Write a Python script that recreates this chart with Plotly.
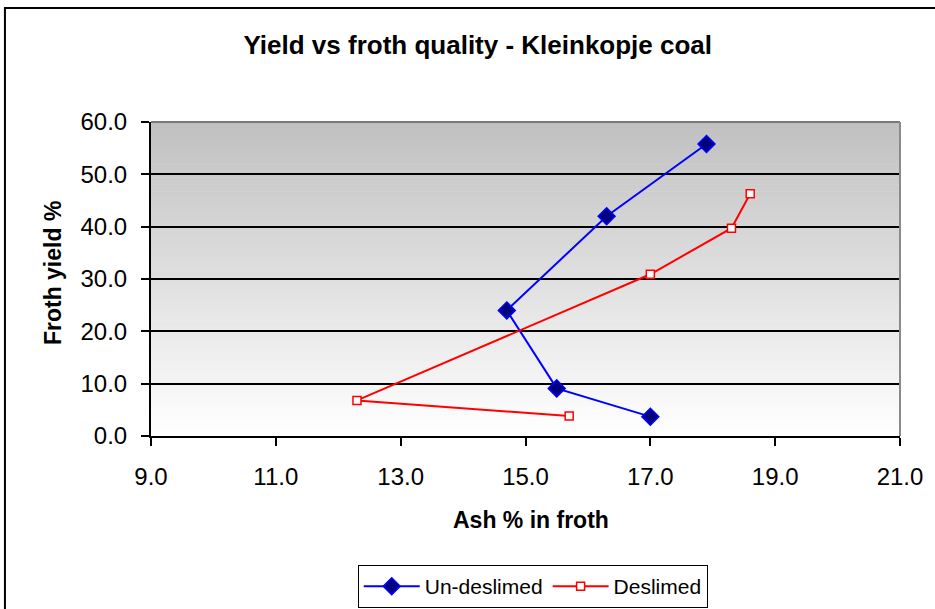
import plotly.graph_objects as go

# Froth ash (%) and froth yield (%) for each series
ash_undeslimed = [17.0, 15.5, 14.7, 16.3, 17.9]
yield_undeslimed = [3.7, 9.1, 24.0, 42.0, 55.8]

ash_deslimed = [15.7, 12.3, 17.0, 18.3, 18.6]
yield_deslimed = [3.8, 6.8, 30.9, 39.7, 46.3]

x_ticks = [9.0, 11.0, 13.0, 15.0, 17.0, 19.0, 21.0]
y_ticks = [0.0, 10.0, 20.0, 30.0, 40.0, 50.0, 60.0]

FONT = "Liberation Sans, Arial, sans-serif"

fig = go.Figure()

fig.add_trace(go.Scatter(
    x=ash_undeslimed, y=yield_undeslimed, name="Un-deslimed",
    mode="lines+markers",
    line=dict(color="#0000ff", width=2),
    marker=dict(symbol="diamond", size=13, color="#000080",
                line=dict(color="#0000ff", width=1.5)),
))
fig.add_trace(go.Scatter(
    x=ash_deslimed, y=yield_deslimed, name="Deslimed",
    mode="lines+markers",
    line=dict(color="#ff0000", width=2),
    marker=dict(symbol="square", size=8, color="#ffffff",
                line=dict(color="#ff0000", width=1.5)),
))

shapes = []
# vertical grey-to-white gradient behind the plot area
n_bands = 90
for i in range(n_bands):
    t = (i + 0.5) / n_bands
    c = int(round(255 - 63 * t))
    shapes.append(dict(
        type="rect", xref="x domain", yref="y domain",
        x0=0, x1=1, y0=i / n_bands, y1=(i + 1) / n_bands + 0.002,
        fillcolor=f"rgb({c},{c},{c})", line=dict(width=0), layer="below",
    ))
# grey top and right edges of the plot area
shapes.append(dict(type="line", xref="x domain", yref="y domain",
                   x0=0, x1=1, y0=1, y1=1,
                   line=dict(color="#7a7a7a", width=2), layer="above"))
shapes.append(dict(type="line", xref="x domain", yref="y domain",
                   x0=1, x1=1, y0=0, y1=1,
                   line=dict(color="#8a8a8a", width=2), layer="above"))
# outer chart frame
shapes.append(dict(type="rect", xref="paper", yref="paper",
                   x0=-0.195, x1=1.08, y0=-0.62, y1=1.363,
                   line=dict(color="black", width=2),
                   fillcolor="rgba(0,0,0,0)", layer="above"))

fig.update_layout(
    width=935, height=609,
    margin=dict(l=151, r=35, t=122, b=173, autoexpand=False),
    paper_bgcolor="white", plot_bgcolor="white",
    font=dict(family=FONT, size=24, color="black"),
    title=dict(text="<b>Yield vs froth quality - Kleinkopje coal</b>",
               x=0.511, xref="container", xanchor="center",
               y=1 - 45 / 609, yref="container", yanchor="middle",
               font=dict(family=FONT, size=26, color="black")),
    showlegend=True,
    legend=dict(orientation="h", x=0.276, y=-0.411,
                xanchor="left", yanchor="top",
                bgcolor="white", bordercolor="black", borderwidth=1,
                font=dict(family=FONT, size=21, color="black"),
                itemwidth=56, tracegroupgap=0),
    shapes=shapes,
    annotations=[
        dict(text="<b>Ash % in froth</b>", xref="paper", yref="paper",
             x=0.507, y=-0.2675, xanchor="center", yanchor="middle",
             showarrow=False, font=dict(family=FONT, size=23, color="black")),
        dict(text="<b>Froth yield %</b>", xref="paper", yref="paper",
             x=-0.1308, y=0.519, xanchor="center", yanchor="middle",
             textangle=-90, showarrow=False,
             font=dict(family=FONT, size=23, color="black")),
    ],
)

fig.update_xaxes(
    range=[9, 21], tickvals=x_ticks, tickformat=".1f",
    showgrid=False, zeroline=False,
    showline=True, linecolor="black", linewidth=2,
    ticks="outside", ticklen=8, tickwidth=2, tickcolor="black",
    ticklabelstandoff=10,
    tickfont=dict(family=FONT, size=24, color="black"),
)
fig.update_yaxes(
    range=[0, 60], tickvals=y_ticks, tickformat=".1f",
    showgrid=True, gridcolor="black", gridwidth=1.5,
    zeroline=False,
    showline=True, linecolor="black", linewidth=2,
    ticks="outside", ticklen=8, tickwidth=2, tickcolor="black",
    ticklabelstandoff=9,
    tickfont=dict(family=FONT, size=24, color="black"),
)

fig.write_html("out.html")
